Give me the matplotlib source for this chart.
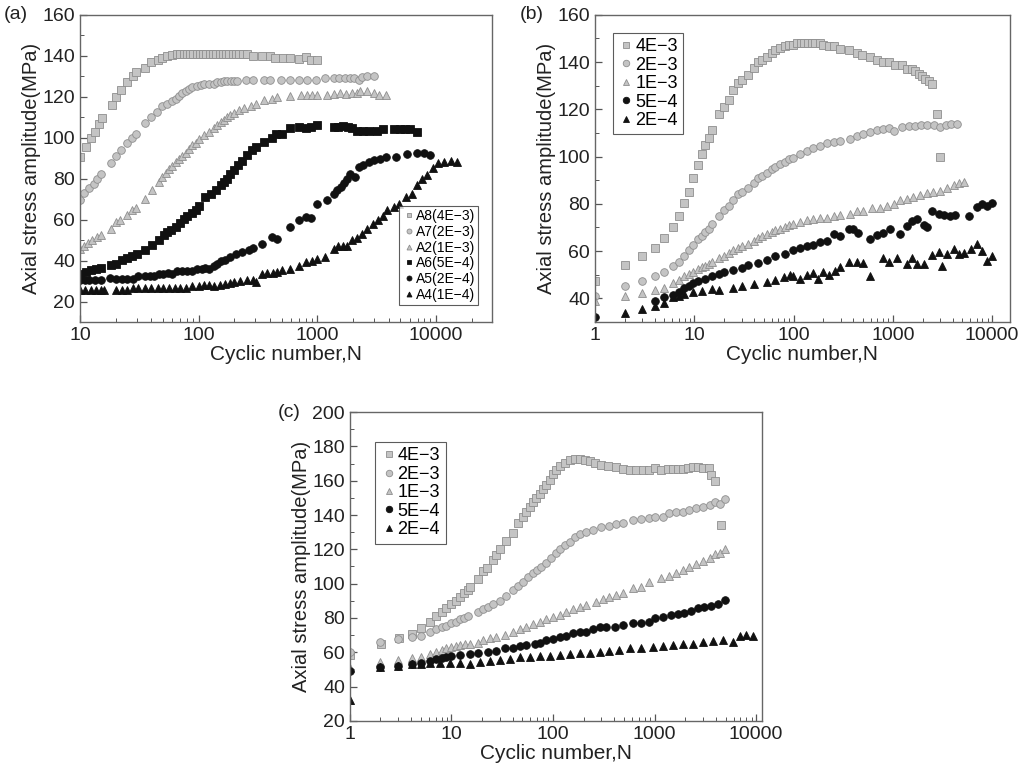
import numpy as np
import matplotlib
matplotlib.use("Agg")
import matplotlib.pyplot as plt
from matplotlib.ticker import FuncFormatter, MultipleLocator, LogLocator

plt.rcParams['font.family'] = ['Liberation Sans', 'DejaVu Sans']

# ---------------- panel (a) data ----------------
a8_n = [10, 11.2, 12.3, 13.4, 14.5, 15.2, 18.5, 20, 22.3, 25, 28, 29.8, 35, 40, 45, 49, 54, 60,
        66, 70, 75, 80, 85, 90, 96, 102, 109, 116, 124, 132, 140, 150, 160, 170, 182, 194, 207, 220,
        235, 255, 290, 345, 400, 440, 510, 590, 700, 800, 880, 1000]
a8_s = [90.7, 95.6, 99.6, 103, 106.6, 109.4, 116, 120, 123.3, 127, 130, 132, 134, 137, 138, 139, 140, 140.5,
        141, 141, 141, 141, 141, 141, 141, 141, 141, 141, 141, 141, 141, 141, 141, 141, 141, 141, 141, 141,
        141, 141, 140, 140, 140, 139, 139, 139, 138.5, 139.3, 138, 138]

a7_n = [10, 10.9, 11.9, 13.1, 14, 15.1, 18.4, 20, 22, 24.7, 27.6, 29.4, 35, 40, 44.8, 49, 54, 60, 64, 68,
        73, 78, 83, 88, 97, 104, 111, 122, 134, 143, 153, 164, 175, 187, 200, 212, 250, 290, 355, 400,
        490, 590, 700, 820, 970, 1170, 1380, 1530, 1700, 1880, 2050, 2250, 2400, 2650, 2980]
a7_s = [69.8, 73, 75.2, 77.6, 79.7, 82.2, 87.7, 91, 94, 97.2, 99.6, 102, 107, 110, 112.7, 115.5, 116.4, 118, 119, 120.4,
        121.7, 123, 123.8, 124.6, 125.3, 125.7, 126, 126, 126.2, 127, 127.4, 127.7, 127.7, 127.7, 127.7, 127.7, 128, 128, 128, 128,
        128, 128, 128, 128, 128, 129, 129, 129, 129, 129, 129, 128.3, 129.5, 130, 130]

a2_n = [10, 10.8, 11.7, 12.7, 14, 14.9, 18.1, 20, 21.7, 25, 27.6, 29.4, 35, 40.6, 46.3, 49.4, 52.6, 56, 60, 64,
        68, 73, 78, 83, 88, 94.5, 100.7, 111, 122, 134, 143, 153, 164, 174, 185, 198, 218, 240, 274, 302,
        355, 419, 461, 592, 725, 820, 900, 1000, 1200, 1390, 1560, 1750, 1950, 2170, 2300, 2650, 3000, 3300, 3800]
a2_s = [45.8, 47, 48.6, 50.2, 51.5, 52.3, 55.6, 58.9, 59.7, 62.4, 64.6, 65.9, 70.3, 74.4, 78.4, 80.9, 82.8, 84.5, 86, 88,
        89.5, 91, 92.6, 94.7, 96.4, 97.5, 99.2, 101.3, 102.9, 104.9, 106, 107.5, 108.6, 110, 111, 112.2, 113.5, 114.6, 115.5, 116.3,
        118.4, 119, 119.7, 120.4, 121, 121, 121, 121, 121, 121.5, 122, 121.5, 122, 122, 122.8, 122.8, 121.7, 121, 121]

a6_n = [10, 11.2, 12.3, 13.6, 14.9, 18.1, 20, 22.7, 25, 27.6, 30.4, 35, 40.6, 46.3, 51, 54.5, 58, 64, 70, 75,
        80, 88, 94.5, 100.7, 114, 126, 139, 153, 164, 174, 185, 198, 214, 234, 258, 284, 302, 355, 419, 445,
        505, 592, 700, 800, 880, 1000, 1380, 1500, 1650, 1800, 1960, 2170, 2450, 2750, 3200, 3600, 4400, 5000, 5500, 6000, 6950]
a6_s = [33.6, 34.4, 35.2, 36, 36.5, 38, 38.5, 40.4, 41.2, 42, 43.4, 45.3, 47.4, 50, 52.3, 54, 55.1, 56.4, 58.4, 60.5,
        61.6, 63.3, 64.9, 66.5, 71, 72.7, 74.3, 76.8, 78.4, 80, 82.5, 84.1, 86.6, 88.7, 91.5, 93.9, 95.6, 98, 99.6, 102,
        102, 104.5, 105, 104.5, 105, 106, 105.3, 105.3, 105.5, 105.3, 104.5, 103.3, 103.3, 103.3, 103.3, 104, 104, 104, 104, 104, 102.6]

a5_n = [10, 11, 12, 13.5, 15, 18, 20, 22.5, 25, 28, 31, 35, 39, 42, 46, 50, 55, 60, 66, 72,
        80, 88, 97, 106, 114, 122, 134, 143, 153, 168, 185, 205, 234, 265, 290, 345, 419, 460, 592, 700,
        800, 880, 1000, 1200, 1380, 1470, 1570, 1680, 1790, 1900, 2100, 2250, 2450, 2730, 3000, 3350, 3800, 4600, 5700, 6950,
        7900, 8900]
a5_s = [30.3, 30.3, 30.3, 30.3, 30.3, 31.6, 31, 31, 31, 31.2, 32.3, 32.3, 32.3, 32.5, 33.6, 33.6, 33.8, 33.6, 34.7, 34.7,
        34.9, 34.7, 36, 36, 36.3, 36, 37.3, 38.5, 39.8, 40.4, 41.7, 43, 44.2, 45.3, 46.3, 47.9, 51.5, 50.4, 56.4, 59.7,
        61.3, 60.8, 67.8, 69.8, 72.4, 74.4, 76, 78, 80, 82.5, 80.9, 85.8, 86.6, 88.2, 89, 89.4, 90.7, 90.7, 92, 92.3,
        92.3, 91.5]

a4_n = [10, 11, 12.3, 13.6, 15, 16, 20, 22.5, 25, 28, 31, 35, 40, 45, 50, 56, 63, 70, 78, 88,
        100, 110, 122, 136, 150, 166, 183, 200, 225, 255, 290, 302, 345, 380, 420, 460, 505, 592, 700, 800,
        900, 1000, 1170, 1380, 1500, 1650, 1790, 1960, 2170, 2400, 2650, 2950, 3270, 3600, 3900, 4400, 4900, 5600, 6300, 6950,
        7650, 8400, 9500, 10500, 11700, 13500, 15000]
a4_s = [25.4, 25.4, 25.4, 25.4, 25.4, 25.4, 25.4, 25.6, 25.6, 26.5, 26.7, 26.5, 26.7, 26.5, 26.7, 26.5, 26.7, 26.7, 26.5, 27.5,
        27.5, 28, 28, 27.5, 28, 28.5, 29, 29.5, 30, 30.3, 30.3, 29.5, 33.3, 33.9, 33.9, 34.2, 35.5, 36, 37.2, 39.3,
        39.8, 41, 41.7, 45.8, 47, 47, 47, 50, 51.2, 53.1, 55.6, 57.7, 59.7, 62, 64.5, 66.2, 67.8, 71, 72.7, 76.8,
        80, 81.7, 85, 87.4, 88.2, 88.7, 88.2]

a_labels = ['A8(4E\u22123)', 'A7(2E\u22123)', 'A2(1E\u22123)', 'A6(5E\u22124)', 'A5(2E\u22124)', 'A4(1E\u22124)']

# ---------------- panel (b) data ----------------
b1_n = [1, 2, 2.95, 3.97, 4.97, 6.06, 7.0, 7.88, 8.9, 9.8, 11, 11.9, 12.8, 13.9, 15, 17.9, 20, 22.2, 24.8, 27.8,
        30, 35, 39.5, 43.6, 47.8, 53.6, 60.2, 65, 73, 82, 90.6, 99.5, 108, 118, 128, 140, 152, 165, 185, 200,
        225, 253, 295, 360, 435, 490, 590, 690, 800, 910, 1060, 1240, 1390, 1560, 1690, 1820, 1970, 2130, 2300, 2500,
        2770, 3000]
b1_s = [47.4, 54.2, 58, 61.5, 65.7, 70, 74.9, 80.2, 85.2, 91, 96.4, 100.9, 104.7, 108, 111.2, 118.1, 121, 124.1, 128.3, 131.2,
        132.2, 134.7, 137.5, 139.9, 141, 142.1, 143.8, 145.2, 145.9, 146.6, 147.1, 147.3, 148, 148, 148, 148, 148, 148, 148, 147,
        146.6, 146.6, 145.5, 145, 143.8, 143.1, 142.1, 141, 140, 140, 138.9, 138.9, 137.2, 137.2, 136.4, 135.1, 134, 132.8, 131.9, 130.7,
        117.8, 99.9]

b2_n = [1, 2, 2.95, 3.97, 4.97, 6.06, 7, 7.88, 8.9, 9.8, 11, 11.9, 12.8, 13.9, 15, 17.9, 20, 22.2, 24.8, 27.8,
        30, 35, 39.5, 43.6, 47.8, 53.6, 60.2, 65, 73, 82, 90.6, 99.5, 116, 135, 158, 185, 217, 253, 295, 370,
        435, 505, 590, 690, 800, 910, 1020, 1240, 1450, 1690, 1900, 2220, 2600, 3000, 3400, 3820, 4450]
b2_s = [41.1, 45.3, 47.2, 49.3, 51.3, 53.5, 55.5, 58, 60.5, 62.5, 65, 66.4, 67.9, 69.5, 71.4, 74.9, 77.4, 79.1, 81.5, 84,
        85, 86.8, 89, 90.8, 91.8, 93.2, 94.6, 95.7, 96.7, 97.7, 98.8, 99.5, 100.9, 102.3, 103.7, 104.4, 105.6, 106.3, 106.5, 107.5,
        108.9, 109.4, 110.3, 111.2, 111.5, 112.2, 111, 112.4, 112.9, 112.9, 113.2, 113.2, 113.2, 112.4, 113.2, 113.9, 113.9]

b3_n = [1, 2, 2.95, 3.97, 4.97, 6.06, 7, 7.88, 8.9, 9.8, 11, 11.9, 12.8, 13.9, 15, 17.9, 20, 22.2, 24.8, 27.8,
        30, 35, 39.5, 43.6, 47.8, 53.6, 60.2, 65, 73, 82, 90.6, 99.5, 116, 135, 158, 185, 217, 253, 295, 370,
        435, 505, 620, 745, 870, 1020, 1190, 1380, 1610, 1880, 2200, 2560, 3000, 3500, 4100, 4600, 5200]
b3_s = [39, 41.1, 42.1, 43.7, 44.6, 46.5, 47.9, 49.3, 50.5, 51.2, 52.4, 53.1, 53.8, 54.5, 55.2, 57.3, 58, 59.4, 60.5, 61.5,
        62.2, 62.9, 64.3, 65.7, 66.4, 67.1, 68.1, 69, 69.5, 70.4, 70.9, 71.4, 72.4, 73.1, 73.8, 74.2, 74.2, 74.9, 75.2, 75.9,
        77, 77, 78.1, 78.4, 79.1, 79.8, 81.5, 82.2, 82.9, 83.6, 84.7, 85.2, 85.4, 86.6, 87.8, 89, 89.2]

b4_n = [1, 3.97, 4.97, 6.06, 7, 7.88, 8.9, 9.8, 11, 12.8, 15, 17.9, 20, 24.8, 30, 35, 43.6, 53.6, 65, 82,
        99.5, 116, 135, 158, 185, 217, 253, 295, 360, 400, 450, 590, 690, 800, 940, 1190, 1380, 1560, 1740, 2050,
        2200, 2500, 2900, 3250, 3800, 4250, 5800, 7000, 7900, 8900, 10000]
b4_s = [32, 39, 40.4, 41.5, 42.8, 44.2, 45.3, 46.5, 47.5, 48.4, 49.6, 50.3, 51, 52.1, 52.7, 54.1, 54.9, 56.3, 58, 58.7,
        60.5, 61.5, 62.2, 62.6, 63.9, 64.3, 67.1, 66.4, 69.5, 69.5, 67.6, 65.3, 66.7, 67.6, 69.3, 67.1, 70.7, 72.8, 73.5, 71,
        70, 77, 75.6, 75.2, 74.9, 75.2, 74.9, 78.8, 79.8, 79.1, 80.5]

b5_n = [2, 2.95, 3.97, 4.97, 6.06, 7, 7.88, 9.8, 11.9, 15, 17.9, 24.8, 30, 39.5, 53.6, 65, 80, 92, 99.5, 116,
        135, 158, 178, 200, 225, 262, 295, 360, 435, 505, 590, 800, 910, 1100, 1380, 1560, 1740, 2050, 2500, 2900,
        3150, 3500, 4100, 4600, 5200, 6200, 7000, 7900, 8900, 10000]
b5_s = [34, 35.5, 36.9, 38, 40.4, 41.1, 41.8, 42.5, 43.2, 43.9, 43.7, 44.6, 45.3, 46.3, 47, 47.7, 48.9, 49.8, 49.3, 48.4,
        49.8, 50.7, 48.2, 51, 49.8, 51.7, 53.1, 55.2, 55.5, 54.9, 49.6, 56.9, 55.2, 56.9, 54.5, 57.3, 54.5, 54.5, 58.3, 59.7,
        53.8, 58.7, 61.1, 58.7, 59.4, 60.8, 62.9, 60.1, 55.9, 58]

# ---------------- panel (c) data ----------------
c1_n = [1, 2.02, 3.03, 4.1, 5.07, 6.1, 7.0, 8.0, 8.9, 10, 11, 12.1, 13.2, 14.5, 15.1, 18.3, 20.5, 22.4, 25.6, 27.6,
        30.2, 34.7, 40.3, 45.1, 50.6, 54.6, 58.8, 63.5, 68.4, 73.7, 79.6, 85.8, 92.6, 99.8, 108, 116, 130, 146, 163, 183,
        205, 229, 257, 298, 347, 420, 490, 570, 660, 770, 890, 1000, 1160, 1350, 1520, 1700, 1900, 2150, 2400, 2700,
        3000, 3400, 3600, 3900, 4540]
c1_s = [58.3, 64.6, 68.1, 70.6, 73.9, 77.4, 81.1, 83.2, 85.6, 87.9, 90.1, 92.4, 94.3, 96.3, 98.2, 102.7, 107.4, 109.3, 113.8, 116.7,
        120, 124.9, 129.8, 135.2, 139.1, 142, 144.5, 147.3, 149.8, 152.3, 155, 157.6, 160.5, 163.8, 166.3, 168.7, 170.2, 171.8, 172.6, 172.6,
        172.2, 171.2, 170.2, 169.3, 168.3, 167.7, 166.7, 166.3, 166.3, 166.3, 166.3, 167.3, 166.3, 166.7, 166.7, 166.9, 166.9, 167.3, 167.9, 167.9,
        167.3, 167.3, 163.4, 160.1, 134.2]

c2_n = [1, 2, 3, 4.1, 5.07, 6.1, 7, 8, 8.9, 10, 11, 12.1, 13.2, 14.5, 18.3, 20.5, 23, 25.6, 29.8, 34.7,
        40.3, 45.1, 50.6, 56.7, 63.5, 69.8, 76.7, 85.8, 96, 106, 116, 130, 146, 163, 183, 212, 247, 298, 359, 420,
        490, 610, 740, 890, 1000, 1200, 1400, 1630, 1900, 2200, 2560, 3000, 3500, 3900, 4400, 4900]
c2_s = [60.3, 66.1, 67.5, 68.7, 69.4, 72, 73.3, 74.5, 75.3, 76.8, 77.8, 79.2, 80.1, 81.1, 83.6, 85, 86.6, 88.1, 90.1, 92.8,
        96.3, 98.6, 101.1, 103.7, 106, 108, 109.5, 112.2, 114.8, 118.1, 120, 122.6, 124.5, 127, 129, 130.3, 131.3, 132.9, 133.6, 134.6,
        135.6, 136.8, 137.5, 138.5, 139.1, 139.1, 141, 142, 142, 143, 144, 144.9, 145.9, 147.3, 146.5, 149.2]

c3_n = [1, 2, 3, 4.1, 5, 6.1, 7, 8, 8.9, 10, 11, 12.1, 13.5, 15.1, 18.3, 20.5, 23.8, 27.6, 33.3, 40.3,
        47, 54.6, 63.5, 73.7, 85.8, 99.8, 116, 135, 157, 183, 212, 267, 310, 359, 420, 490, 610, 740, 890, 1160,
        1400, 1630, 1900, 2200, 2560, 3000, 3500, 3900, 4400, 4900]
c3_s = [51.1, 54.4, 55.4, 56.4, 57.4, 58.9, 60.3, 61.3, 62.2, 63.2, 63.8, 64.2, 64.6, 64.6, 65.5, 67.1, 68.1, 68.7, 70, 71.6,
        73.3, 74.9, 76.2, 77.8, 79.2, 80.3, 81.7, 83.2, 85, 86.6, 87.5, 89.5, 90.8, 92.4, 93.4, 94.3, 97.3, 98.2, 101.1, 103.1,
        104.5, 106.4, 108, 109.9, 111.5, 113.2, 115.2, 117.1, 117.7, 120]

c4_n = [1, 2, 3, 4.1, 5, 6.1, 7, 8, 8.9, 10, 12.1, 15.1, 18.3, 23, 27.6, 33.3, 40.3, 47, 54.6, 66,
        73.7, 85.8, 99.8, 116, 135, 157, 183, 212, 247, 287, 334, 405, 490, 610, 740, 890, 1000, 1200, 1450, 1700,
        1960, 2300, 2700, 3100, 3600, 4200, 4900]
c4_s = [49.2, 51.5, 51.9, 53.1, 53.9, 55, 55.8, 56.4, 57, 57.8, 58.3, 58.9, 59.3, 60.3, 60.9, 62.2, 62.6, 63.6, 64.2, 64.8,
        65.5, 67.1, 67.7, 68.7, 69.4, 71, 72, 72, 73.3, 74.5, 74.5, 74.9, 75.9, 77.2, 77.2, 77.8, 79.8, 80.3, 81.7, 82.3,
        83, 84.2, 85.6, 86.2, 86.9, 88.1, 90.4]

c5_n = [1, 2, 3, 4.1, 5, 6.1, 7.7, 9.6, 12.1, 15.1, 19, 23.8, 29.8, 37.5, 47, 58.8, 73.7, 92.6, 116, 146,
        183, 229, 287, 359, 450, 570, 740, 960, 1200, 1520, 1900, 2400, 3000, 3750, 4700, 5900, 6900, 8000, 9300]
c5_s = [32.1, 51.5, 51.9, 53.1, 53.1, 53.5, 53.5, 53.5, 53.5, 53.1, 54.4, 54.8, 55.4, 56, 57, 57.4, 57.8, 58, 58.3, 58.9,
        59.3, 59.7, 60.3, 60.9, 61.3, 62.2, 62.2, 63.2, 63.6, 64.2, 64.6, 65.1, 65.7, 66.5, 67.1, 66.1, 69.4, 69.8, 69.4]

bc_labels = ['4E\u22123', '2E\u22123', '1E\u22123', '5E\u22124', '2E\u22124']

# marker styles: light gray markers for high rates, black for low rates
GRAY_FACE = '#c4c4c4'
GRAY_EDGE = '#8e8e8e'
styles = [('s', GRAY_FACE, GRAY_EDGE), ('o', GRAY_FACE, GRAY_EDGE), ('^', GRAY_FACE, GRAY_EDGE),
          ('s', '#111111', '#111111'), ('o', '#111111', '#111111'), ('^', '#111111', '#111111')]
styles_bc = [styles[0], styles[1], styles[2], styles[4], styles[5]]


def style_axes(ax, xlim, ylim, ymajor):
    ax.set_xscale('log')
    ax.set_xlim(*xlim)
    ax.set_ylim(*ylim)
    ax.yaxis.set_major_locator(MultipleLocator(ymajor))
    ax.yaxis.set_minor_locator(MultipleLocator(ymajor / 2))
    ax.xaxis.set_major_locator(LogLocator(base=10))
    ax.xaxis.set_minor_locator(LogLocator(base=10, subs=np.arange(2, 10)))
    ax.xaxis.set_major_formatter(FuncFormatter(lambda v, p: '%d' % v))
    ax.tick_params(which='both', direction='in', top=False, right=False, colors='#555555',
                   labelcolor='#222222', labelsize=14)
    ax.tick_params(which='major', length=5, width=0.9)
    ax.tick_params(which='minor', length=3, width=0.7)
    for sp in ax.spines.values():
        sp.set_color('#666666')
        sp.set_linewidth(1.0)
    ax.set_xlabel('Cyclic number,N', fontsize=15, color='#222222', labelpad=1)
    ax.set_ylabel('Axial stress amplitude(MPa)', fontsize=14.5, color='#222222', labelpad=1)


def draw(ax, series, labels, sty):
    for (n, s), lab, (m, fc, ec) in zip(series, labels, sty):
        ax.plot(n, s, linestyle='none', marker=m, markersize=5.5, markerfacecolor=fc,
                markeredgecolor=ec, markeredgewidth=0.6, label=lab)


def boxed_legend(ax, loc, anchor, size, spacing, scale, pad=0.3):
    leg = ax.legend(loc=loc, bbox_to_anchor=anchor, borderaxespad=0, fontsize=size,
                    handletextpad=0.05, labelspacing=spacing, borderpad=pad, handlelength=0.9,
                    markerscale=scale, frameon=True, fancybox=False)
    leg.get_frame().set_edgecolor('#333333')
    leg.get_frame().set_linewidth(0.8)
    return leg


fig = plt.figure(figsize=(10.26, 7.76), dpi=100)

# (a)
ax_a = fig.add_axes([0.078, 0.585, 0.402, 0.396])
draw(ax_a, [(a8_n, a8_s), (a7_n, a7_s), (a2_n, a2_s), (a6_n, a6_s), (a5_n, a5_s), (a4_n, a4_s)],
     a_labels, styles)
style_axes(ax_a, (10, 30000), (10, 160), 20)
ax_a.set_yticks([20, 40, 60, 80, 100, 120, 140, 160])
boxed_legend(ax_a, 'lower right', (0.966, 0.055), 10, 0.12, 0.65, pad=0.25)
fig.text(0.004, 0.981, '(a)', fontsize=14, va='center', ha='left', color='#222222')

# (b)
ax_b = fig.add_axes([0.580, 0.585, 0.404, 0.396])
draw(ax_b, [(b1_n, b1_s), (b2_n, b2_s), (b3_n, b3_s), (b4_n, b4_s), (b5_n, b5_s)],
     bc_labels, styles_bc)
style_axes(ax_b, (1, 15000), (30, 160), 20)
ax_b.set_yticks([40, 60, 80, 100, 120, 140, 160])
boxed_legend(ax_b, 'upper left', (0.043, 0.941), 13, 0.08, 0.85)
fig.text(0.507, 0.981, '(b)', fontsize=14, va='center', ha='left', color='#222222')

# (c)
ax_c = fig.add_axes([0.341, 0.071, 0.402, 0.398])
draw(ax_c, [(c1_n, c1_s), (c2_n, c2_s), (c3_n, c3_s), (c4_n, c4_s), (c5_n, c5_s)],
     bc_labels, styles_bc)
style_axes(ax_c, (1, 11500), (20, 200), 20)
boxed_legend(ax_c, 'upper left', (0.061, 0.903), 13, 0.08, 0.85)
fig.text(0.271, 0.469, '(c)', fontsize=14, va='center', ha='left', color='#222222')

fig.savefig('out.png', dpi=100, facecolor='white')
